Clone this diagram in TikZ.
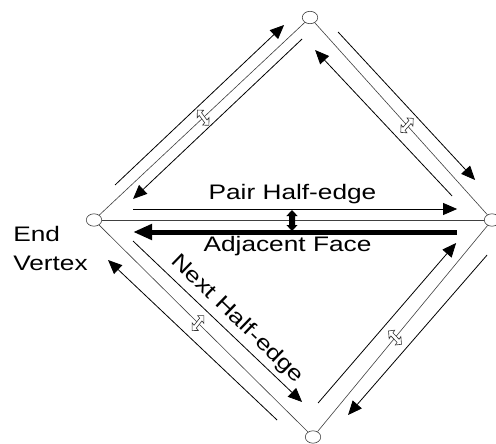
\documentclass[tikz,border=0pt]{standalone}
\usepackage{fontspec}
\setmainfont{Liberation Sans}
\usetikzlibrary{arrows.meta}
\begin{document}
\begin{tikzpicture}[x=1pt,y=1pt,
  vtx/.style={circle,draw=black!75,line width=0.6pt,fill=white,minimum size=12.4pt,inner sep=0pt,transform shape},
  edgeline/.style={draw=black!75,line width=0.6pt},
  halfedge/.style={draw=black,line width=0.8pt,-{Triangle[length=14pt,width=12pt]}},
  facearrow/.style={draw=black,line width=5pt,-{Triangle[length=19pt,width=15pt]}},
  lbl/.style={font=\fontsize{21}{25}\selectfont,inner sep=0pt,transform shape},
  % the drawing is stretched by 1.25 horizontally; xscale=0.8 undoes it for a marker
  upright/.style={xscale=0.8,rotate=#1},
  hollowdbl/.pic={\draw[black!80,line width=0.6pt,fill=white]
    (0,10.5)--(5.5,5)--(2,5)--(2,-5)--(5.5,-5)--(0,-10.5)
    --(-5.5,-5)--(-2,-5)--(-2,5)--(-5.5,5)--cycle;},
  soliddbl/.pic={\fill[black]
    (0,10.5)--(5.6,4.5)--(3,4.5)--(3,-4.5)--(5.6,-4.5)--(0,-10.5)
    --(-5.6,-4.5)--(-3,-4.5)--(-3,4.5)--(-5.6,4.5)--cycle;}
]
\fill[white] (0,0) rectangle (496,-444);
\useasboundingbox (0,0) rectangle (496,-444);
\begin{scope}[xscale=1.25]
  % vertices
  \node[vtx] (T) at (248,-17.5) {};
  \node[vtx] (L) at (75.2,-220) {};
  \node[vtx] (R) at (393.6,-220) {};
  \node[vtx] (B) at (250.4,-437) {};
  % edges
  \draw[edgeline] (L) -- (T);
  \draw[edgeline] (T) -- (R);
  \draw[edgeline] (L) -- (R);
  \draw[edgeline] (L) -- (B);
  \draw[edgeline] (B) -- (R);
  % half-edges beside the upper left edge
  \coordinate (tlo1) at (92,-185);     \coordinate (tlo2) at (227.2,-25);
  \coordinate (tli1) at (241.6,-39);   \coordinate (tli2) at (106.4,-199);
  \draw[halfedge] (tlo1) -- (tlo2);
  \draw[halfedge] (tli1) -- (tli2);
  % half-edges beside the upper right edge
  \coordinate (tro1) at (270.4,-32);   \coordinate (tro2) at (380,-180);
  \coordinate (tri1) at (361.6,-196);  \coordinate (tri2) at (252,-50);
  \draw[halfedge] (tro1) -- (tro2);
  \draw[halfedge] (tri1) -- (tri2);
  % half-edges beside the lower left edge
  \coordinate (lbo1) at (221.6,-420);  \coordinate (lbo2) at (86.4,-260);
  \coordinate (lbi1) at (106.4,-241);  \coordinate (lbi2) at (241.6,-402);
  \draw[halfedge] (lbo1) -- (lbo2);
  \draw[halfedge] (lbi1) -- (lbi2);
  % half-edges beside the lower right edge
  \coordinate (bri1) at (254.4,-403);  \coordinate (bri2) at (364.8,-243);
  \coordinate (bro1) at (389.6,-255);  \coordinate (bro2) at (278.4,-415);
  \draw[halfedge] (bri1) -- (bri2);
  \draw[halfedge] (bro1) -- (bro2);
  % pair half-edge and adjacent face along the middle edge
  \coordinate (pr1) at (106.4,-209);   \coordinate (pr2) at (365.6,-209);
  \coordinate (af1) at (365.6,-232);   \coordinate (af2) at (106.4,-232);
  \draw[halfedge] (pr1) -- (pr2);
  \draw[facearrow] (af1) -- (af2);
  \pic at (233.6,-220.5) {soliddbl};
  % twin markers, square to each edge
  \pic[upright=43.2]  at (162.5,-117.7) {hollowdbl};
  \pic[upright=-48.1] at (325.6,-125.4) {hollowdbl};
  \pic[upright=-44.7] at (158.4,-323.1) {hollowdbl};
  \pic[upright=50.5]  at (316.0,-337.6) {hollowdbl};
  % labels
  \node[lbl,anchor=base] (pairlbl) at (234,-200) {Pair Half-edge};
  \node[lbl,anchor=base] (adjlbl) at (230,-251.7) {Adjacent Face};
  \node[lbl,anchor=base west] (endlbl) at (10.4,-241.7) {End};
  \node[lbl,anchor=base west] (vertexlbl) at (10.4,-270) {Vertex};
  \node[lbl,xscale=0.8,rotate=-44,xscale=1.25] (nextlbl) at (189.6,-319) {Next Half-edge};
\end{scope}
\end{tikzpicture}
\end{document}
